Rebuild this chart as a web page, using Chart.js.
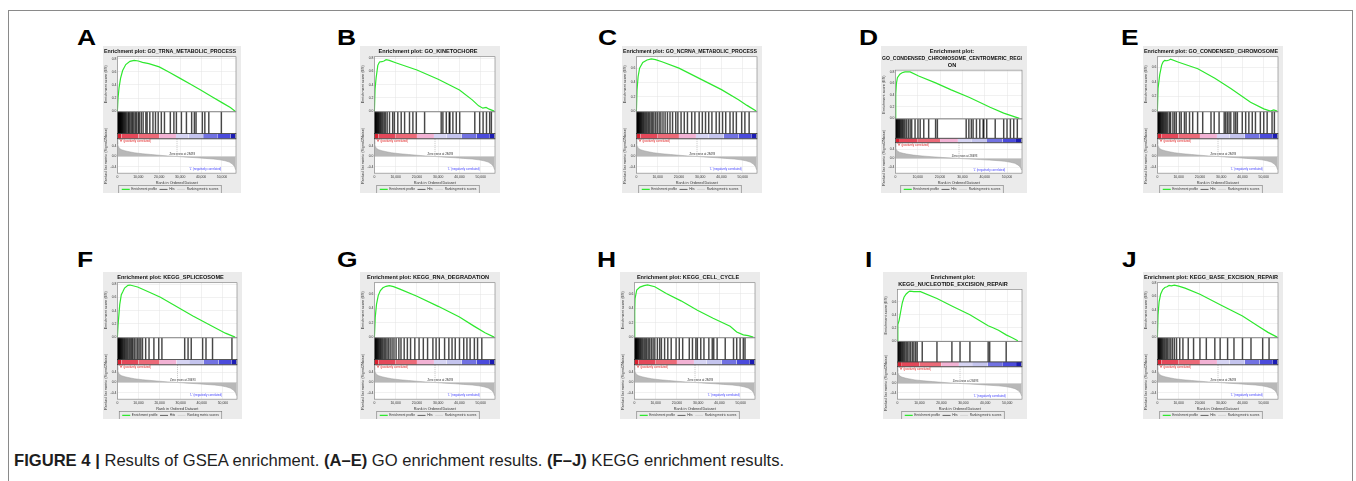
<!DOCTYPE html>
<html><head><meta charset="utf-8">
<script src="https://cdn.jsdelivr.net/npm/chart.js@4.4.1/dist/chart.umd.min.js"></script>
<style>
html,body{margin:0;padding:0;background:#fff;width:1356px;height:481px;overflow:hidden;font-family:"Liberation Sans",Arial,sans-serif;}
#frame{position:absolute;left:8px;top:10px;width:1345px;height:520px;border:1px solid #8a8a8a;box-sizing:border-box;}
.letter{position:absolute;font-weight:bold;font-size:22px;line-height:22px;color:#000;transform:scaleX(1.2);transform-origin:left top;}
.panel{position:absolute;background:#ebebeb;overflow:hidden;}
.panel canvas{position:absolute;left:0;top:0;}
#caption{position:absolute;left:14px;top:451px;font-size:16.6px;line-height:19px;color:#1e1e1e;white-space:nowrap;}
#caption b{font-weight:bold;}
</style></head><body>
<div id="frame"></div>
<div id="caption"><b>FIGURE 4 |</b> Results of GSEA enrichment. <b>(A–E)</b> GO enrichment results. <b>(F–J)</b> KEGG enrichment results.</div>
<script>
// ---------- data ----------
const panelLetters = ['A','B','C','D','E','F','G','H','I','J'];
const panelTitles = [
  ['Enrichment plot: GO_TRNA_METABOLIC_PROCESS'],
  ['Enrichment plot: GO_KINETOCHORE'],
  ['Enrichment plot: GO_NCRNA_METABOLIC_PROCESS'],
  ['Enrichment plot:','GO_CONDENSED_CHROMOSOME_CENTROMERIC_REGI','ON'],
  ['Enrichment plot: GO_CONDENSED_CHROMOSOME'],
  ['Enrichment plot: KEGG_SPLICEOSOME'],
  ['Enrichment plot: KEGG_RNA_DEGRADATION'],
  ['Enrichment plot: KEGG_CELL_CYCLE'],
  ['Enrichment plot:','KEGG_NUCLEOTIDE_EXCISION_REPAIR'],
  ['Enrichment plot: KEGG_BASE_EXCISION_REPAIR']
];

// running enrichment score: [rank, ES]
const esA = [[0,0],[300,0.2],[800,0.36],[1500,0.5],[2500,0.62],[4000,0.71],[6000,0.76],[8000,0.775],[10000,0.765],[12000,0.745],[15000,0.725],[20000,0.675],[25000,0.59],[30000,0.5],[35000,0.41],[40000,0.32],[45000,0.225],[50000,0.13],[54000,0.055],[56300,0]];
const esB = [[0,0],[300,0.33],[800,0.5],[1600,0.69],[2400,0.74],[3500,0.745],[4500,0.755],[5500,0.775],[7000,0.765],[10000,0.73],[20000,0.62],[30000,0.48],[40000,0.32],[46000,0.17],[49000,0.08],[51000,0.045],[52500,0.055],[54000,0.03],[56300,0]];
const esC = [[0,0],[300,0.3],[800,0.48],[1500,0.6],[3000,0.68],[5000,0.715],[7000,0.73],[9000,0.72],[12000,0.69],[20000,0.6],[30000,0.45],[40000,0.3],[48000,0.16],[52000,0.08],[56300,0]];
const esD = [[0,0],[150,0.42],[450,0.6],[900,0.7],[2000,0.76],[3000,0.785],[4300,0.8],[6600,0.8],[10400,0.73],[18000,0.61],[25000,0.49],[33200,0.36],[42400,0.19],[48500,0.09],[55500,0]];
const esE = [[0,0],[300,0.31],[1100,0.5],[2000,0.63],[2600,0.67],[3400,0.695],[4500,0.69],[5500,0.7],[6200,0.71],[10000,0.67],[19000,0.58],[27000,0.45],[34500,0.31],[43800,0.12],[50000,0.03],[53100,0.0],[54700,0.015],[56300,0]];
const esF = [[0,0],[300,0.18],[1100,0.49],[1850,0.64],[2500,0.68],[3400,0.74],[5000,0.78],[6000,0.785],[9600,0.755],[15700,0.67],[20400,0.6],[35800,0.32],[51200,0.06],[55800,0]];
const esG = [[0,0],[400,0.28],[1000,0.46],[1800,0.58],[2800,0.65],[4000,0.69],[5500,0.71],[7000,0.72],[9000,0.705],[12000,0.67],[20000,0.57],[30000,0.43],[40000,0.28],[47000,0.15],[52000,0.06],[56300,0]];
const esH = [[0,0],[150,0.35],[300,0.53],[1100,0.65],[2600,0.69],[4500,0.71],[6200,0.72],[9600,0.695],[15000,0.6],[21900,0.5],[29600,0.37],[37000,0.26],[45000,0.15],[48100,0.07],[51200,0.03],[53500,0.02],[55900,0]];
const esI = [[0,0],[200,0.25],[750,0.31],[1500,0.45],[2200,0.58],[3000,0.67],[4000,0.72],[5000,0.75],[5700,0.765],[7500,0.755],[10500,0.755],[18000,0.65],[25000,0.53],[33000,0.4],[41300,0.23],[43500,0.2],[46000,0.16],[49500,0.09],[52000,0.05],[54800,0]];
const esJ = [[0,0],[300,0.33],[800,0.52],[1500,0.63],[2500,0.7],[3500,0.73],[4500,0.74],[5500,0.76],[6500,0.755],[8000,0.765],[10000,0.75],[13000,0.72],[20000,0.63],[30000,0.47],[40000,0.31],[48000,0.15],[52000,0.07],[56300,0]];

// gene-set hit positions (rank)
const hitsA = [100,250,400,550,700,850,1000,1200,1400,1600,1800,2000,2300,2600,2900,3300,3700,4100,4600,5200,5600,6100,6800,7300,7900,8600,9200,10000,10500,11400,12300,13600,14200,15500,17000,18200,19500,21000,22500,25300,27000,28200,30600,33000,35500,36800,37600,40600,41800,43700,49700];
const hitsB = [100,250,400,600,800,1000,1300,1600,1900,2200,2600,3000,3500,4000,4600,5200,6000,7100,8600,9400,11000,12600,14200,16500,18100,19700,23600,31400,32200,33800,35200,35500,36900,38500,40100,47200,49500,51100,52700,54200,55000];
const hitsC = [100,200,350,500,650,800,1000,1200,1400,1700,2000,2300,2700,3100,3500,4000,4500,5000,5600,6200,6900,7500,8200,9000,9800,10700,11500,12500,13500,14600,15800,17000,18500,19500,21000,22500,24000,26000,27500,29500,31000,32500,34000,35500,37500,39000,40500,42000,44000,45500,47000,49500,51000,53000];
const hitsD = [100,300,500,700,900,1200,1500,1800,2100,2500,2900,3300,3800,4300,5000,5800,6600,7300,8800,10100,11100,12700,14900,18000,18800,31700,32900,34000,34800,36300,37800,39300,39600,40900,44700,48500,50000,51500,53000,54600];
const hitsE = [100,250,400,600,800,1000,1300,1600,2000,2400,2800,3300,3800,4300,4900,5700,6200,7300,8100,8900,10400,11200,12700,13500,15100,16600,18900,21300,25200,26700,29000,31400,32100,32900,33700,34500,36000,36800,37600,39900,41500,43000,44600,46100,48400,50000,51600,53900,55000];
const hitsF = [100,200,350,500,650,800,1000,1200,1400,1700,2000,2300,2700,3100,3500,4000,4500,5000,5600,6200,6800,7300,8000,8800,9600,10300,11100,11900,13400,15000,17300,19600,21100,31900,33500,35000,40400,42000,45100,54300];
const hitsG = [100,300,500,700,900,1200,1500,1800,2200,2600,3000,3500,4000,4600,5200,5900,6600,7400,8300,9200,10200,11500,12500,14000,15500,17000,19000,21000,23000,25000,27500,29000,30500,33000,35000,36500,38000,40000,42000,43500,45000,47000,48500,50500];
const hitsH = [100,250,400,550,700,900,1100,1300,1600,1900,2200,2600,3000,3500,4000,4600,5200,5800,6500,7200,8000,8800,9600,10800,11900,12700,14200,15700,17300,19600,21100,22700,25800,27300,28900,29600,31200,32700,35000,36600,37300,38900,42700,46600,48100,49700,51200,52000];
const hitsI = [100,300,500,700,1000,1300,1600,2000,2400,2900,3400,4000,4600,5300,6000,6800,7500,8300,9000,11300,18000,24800,28500,33000,41300,42000,49500];
const hitsJ = [100,300,500,700,900,1200,1500,1800,2200,2600,3100,3600,4200,4800,5500,6300,7100,8000,9000,10500,12000,14500,17000,20000,23000,27000,29500,33000,36000,40000,44000,49500,52500];

// ranked list metric (Signal2Noise), shared by all panels
const rankX = [0,150,400,1000,2000,3500,5000,8000,12000,16000,20000,24000,28493,33000,38000,42000,46000,49000,51500,53500,55000,56000,56500];
const rankY = [0.65,0.5,0.4,0.32,0.27,0.23,0.2,0.15,0.11,0.08,0.05,0.025,0,-0.025,-0.05,-0.075,-0.1,-0.13,-0.17,-0.22,-0.3,-0.4,-0.52];
const zeroCross = 28493;

// colour bar bands along the ranked list
const bandEdges = [0,2000,10000,20000,28000,34000,41000,48000,54000,56500];
const bandColors = ['#d9202f','#e4485a','#ec6a78','#f2b2d4','#d6d4f3','#c4c4ee','#7272e2','#4b4bdc','#1c1cb4'];

// axis ticks
const xTicks = [0,10000,20000,30000,40000,50000];
const esTicks8 = [0,0.1,0.2,0.3,0.4,0.5,0.6,0.7,0.8];
const esTicks7 = [0,0.1,0.2,0.3,0.4,0.5,0.6,0.7];
const rankTicks = [-0.4,-0.2,0,0.2,0.4,0.6];
const esTickSet = [esTicks8,esTicks8,esTicks7,esTicks8,esTicks7,esTicks8,esTicks7,esTicks7,esTicks7,esTicks8];
const esTop = [0.83,0.82,0.76,0.83,0.745,0.82,0.76,0.75,0.79,0.8];

// ---------- layout (positions only) ----------
const panelBoxes = [
  [103,46,138,147],[360,46,140,147],[622,46,140,147],[881,46,146,147],[1143,46,140,147],
  [103,272,139,147],[360,272,140,147],[620,272,140,147],[883,272,144,147],[1143,272,140,147]
];
const letterPos = [[77,27],[337,27],[598,27],[859,27],[1121,27],[77,249],[337,249],[597,249],[865,249],[1122,249]];

const esSeries = [esA,esB,esC,esD,esE,esF,esG,esH,esI,esJ];
const hitSeries = [hitsA,hitsB,hitsC,hitsD,hitsE,hitsF,hitsG,hitsH,hitsI,hitsJ];

Chart.defaults.font.family = "'Liberation Sans', Arial, sans-serif";
Chart.defaults.animation = false;

const gseaPlugin = {
  id: 'gsea',
  beforeDraw(chart) {
    const ctx = chart.ctx, a = chart.chartArea;
    ctx.save();
    ctx.fillStyle = '#ffffff';
    ctx.fillRect(a.left, a.top, a.right - a.left, a.bottom - a.top);
    ctx.restore();
  },
  beforeDatasetsDraw(chart) {
    const ctx = chart.ctx, a = chart.chartArea, h = chart.scales.yHits;
    ctx.save();
    ctx.fillStyle = '#ffffff';
    ctx.fillRect(a.left, h.top, a.right - a.left, h.bottom - h.top);
    ctx.restore();
  },
  afterDatasetsDraw(chart) {
    const ctx = chart.ctx, a = chart.chartArea, sc = chart.scales, x = sc.x, r = sc.yRank;
    ctx.save();
    const zx = x.getPixelForValue(zeroCross);
    ctx.strokeStyle = '#8a8a8a'; ctx.lineWidth = 0.5; ctx.setLineDash([1, 1]);
    ctx.beginPath(); ctx.moveTo(zx, r.top); ctx.lineTo(zx, r.getPixelForValue(0)); ctx.stroke();
    ctx.setLineDash([]);
    ctx.strokeStyle = '#7a7a7a'; ctx.lineWidth = 0.6;
    ['yES','yHits','yRank'].forEach(id => {
      const s = sc[id];
      ctx.strokeRect(a.left, s.top, a.right - a.left, s.bottom - s.top);
    });
    ctx.strokeStyle = '#222'; ctx.lineWidth = 0.6;
    ctx.strokeRect(a.left, sc.yBar.top, a.right - a.left, sc.yBar.bottom - sc.yBar.top);
    ctx.font = "2.9px 'Liberation Sans', Arial, sans-serif";
    ctx.textBaseline = 'top'; ctx.textAlign = 'left';
    ctx.fillStyle = '#e02020';
    ctx.fillText("'H' (positively correlated)", a.left + 2, r.top + 1);
    ctx.fillStyle = '#333';
    ctx.textAlign = 'center'; ctx.textBaseline = 'bottom';
    ctx.fillText('Zero cross at ' + zeroCross, x.getPixelForValue(zeroCross + 2500), r.getPixelForValue(0.015));
    ctx.fillStyle = '#4040ff';
    ctx.textBaseline = 'middle';
    ctx.fillText("'L' (negatively correlated)", x.getPixelForValue(42000), r.getPixelForValue(-0.52));
    ctx.restore();
  },
  afterDraw(chart) {
    const boxes = chart.legend && chart.legend.legendHitBoxes;
    if (!boxes || !boxes.length) return;
    let l = Infinity, rgt = -Infinity, t = Infinity, b = -Infinity;
    boxes.forEach(bx => { l = Math.min(l, bx.left); rgt = Math.max(rgt, bx.left + bx.width); t = Math.min(t, bx.top); b = Math.max(b, bx.top + bx.height); });
    const ctx = chart.ctx;
    ctx.save(); ctx.strokeStyle = '#777'; ctx.lineWidth = 0.6;
    ctx.strokeRect(l - 3, t - 2.5, rgt - l + 6, b - t + 5);
    ctx.restore();
  }
};

function tickFont() { return {size: 3.4}; }

function buildPanel(i) {
  const [bx, by, bw, bh] = panelBoxes[i];
  const div = document.createElement('div');
  div.className = 'panel';
  div.style.left = bx + 'px'; div.style.top = by + 'px';
  div.style.width = bw + 'px'; div.style.height = bh + 'px';
  const cv = document.createElement('canvas');
  cv.width = bw; cv.height = bh;
  cv.style.width = bw + 'px'; cv.style.height = bh + 'px';
  div.appendChild(cv);
  document.body.appendChild(div);

  const lt = document.createElement('div');
  lt.className = 'letter';
  lt.textContent = panelLetters[i];
  lt.style.left = letterPos[i][0] + 'px'; lt.style.top = letterPos[i][1] + 'px';
  document.body.appendChild(lt);

  const datasets = [];
  datasets.push({type: 'line', label: 'Enrichment profile', legendColor: '#2ee82e', legendWidth: 1.2,
    data: esSeries[i], yAxisID: 'yES', borderColor: '#2ee82e', borderWidth: 1.2,
    pointRadius: 0, tension: 0, fill: false, order: 0});
  datasets.push({type: 'bar', label: 'Hits', legendColor: '#000000', legendWidth: 0.6,
    data: hitSeries[i].map(v => ({x: v, y: 1})), yAxisID: 'yHits',
    backgroundColor: 'rgba(0,0,0,0.72)', borderWidth: 0, barThickness: 0.8, grouped: false, order: 1});
  bandColors.forEach((c, k) => datasets.push({type: 'line', label: 'band',
    data: [{x: bandEdges[k], y: 1}, {x: bandEdges[k + 1], y: 1}], yAxisID: 'yBar',
    fill: 'origin', backgroundColor: c, borderWidth: 0, pointRadius: 0, order: 2}));
  datasets.push({type: 'line', label: 'Ranking metric scores', legendColor: '#cfcfcf', legendWidth: 0.8,
    data: rankX.map((v, k) => ({x: v, y: rankY[k]})), yAxisID: 'yRank',
    fill: 'origin', backgroundColor: '#b8b8b8', borderColor: '#9c9c9c', borderWidth: 0.5, pointRadius: 0, order: 3});

  const yHidden = (w, wt) => ({type: 'linear', position: 'left', stack: 'gsea', stackWeight: w, weight: wt,
    min: 0, max: 1, ticks: {display: false}, grid: {display: false, drawTicks: false}, border: {display: false}});

  new Chart(cv, {
    type: 'line',
    data: {datasets},
    options: {
      responsive: false,
      devicePixelRatio: 1,
      animation: false,
      events: [],
      layout: {padding: {left: 1, right: 5, top: 0, bottom: -8}},
      scales: {
        x: {type: 'linear', min: 0, max: 56700, offset: false,
          afterBuildTicks: s => { s.ticks = xTicks.map(v => ({value: v})); },
          ticks: {font: tickFont(), color: '#333', padding: 1.5, maxRotation: 0, autoSkip: false,
            callback: v => Number(v).toLocaleString('en-US')},
          grid: {color: '#e2e2e2', lineWidth: 0.5, drawTicks: false, offset: false},
          border: {display: false},
          title: {display: true, text: 'Rank in Ordered Dataset', font: {size: 3.8}, color: '#333', padding: {top: 0.5, bottom: 0}}},
        yES: {type: 'linear', position: 'left', stack: 'gsea', stackWeight: 53, weight: 4,
          min: -0.01, max: esTop[i],
          afterBuildTicks: s => { s.ticks = esTickSet[i].map(v => ({value: v})); },
          ticks: {font: tickFont(), color: '#333', padding: 1, callback: v => Number(v).toFixed(1)},
          grid: {color: '#e2e2e2', lineWidth: 0.5, drawTicks: false},
          border: {display: false},
          title: {display: true, text: 'Enrichment score (ES)', font: {size: 3.8}, color: '#333', padding: {top: 0, bottom: 1}}},
        yHits: yHidden(21, 3),
        yBar: yHidden(5, 2),
        yRank: {type: 'linear', position: 'left', stack: 'gsea', stackWeight: 33, weight: 1,
          min: -0.66, max: 0.7,
          afterBuildTicks: s => { s.ticks = rankTicks.map(v => ({value: v})); },
          ticks: {font: tickFont(), color: '#333', padding: 1, callback: v => Number(v).toFixed(1)},
          grid: {color: '#e2e2e2', lineWidth: 0.5, drawTicks: false},
          border: {display: false},
          title: {display: true, text: 'Ranked list metric (Signal2Noise)', font: {size: 3.8}, color: '#333', padding: {top: 0, bottom: 1}}}
      },
      plugins: {
        title: {display: true, text: panelTitles[i], color: '#111',
          font: {size: 5.6, weight: 'bold', lineHeight: 1.2}, padding: {top: 2.5, bottom: 1.5}},
        legend: {display: true, position: 'bottom',
          labels: {font: {size: 3.2}, color: '#333', usePointStyle: true, pointStyle: 'line',
            pointStyleWidth: 8, boxHeight: 2, padding: 2.5,
            generateLabels(chart) {
              return chart.data.datasets.map((d, k) => ({text: d.label, strokeStyle: d.legendColor,
                fillStyle: d.legendColor, lineWidth: d.legendWidth, pointStyle: 'line',
                datasetIndex: k, hidden: false, fontColor: '#333'}))
                .filter(l => chart.data.datasets[l.datasetIndex].legendColor);
            }}},
        tooltip: {enabled: false}
      }
    },
    plugins: [gseaPlugin]
  });
}

for (let i = 0; i < panelLetters.length; i++) buildPanel(i);
</script>
</body></html>
